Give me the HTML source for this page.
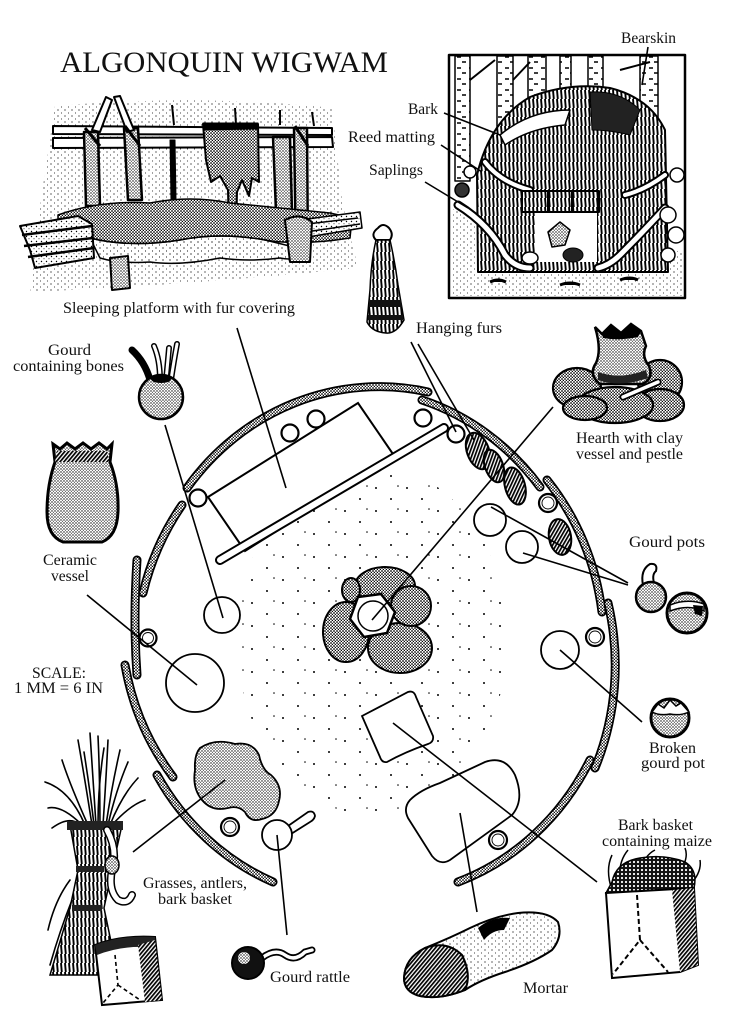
<!DOCTYPE html>
<html><head><meta charset="utf-8"><style>
html,body{margin:0;padding:0;background:#fff;}
svg{display:block;}
text{font-family:"Liberation Serif",serif;fill:#111;}
</style></head><body>
<svg width="733" height="1024" viewBox="0 0 733 1024" xmlns="http://www.w3.org/2000/svg">
<defs>
<pattern id="st" width="3" height="3" patternUnits="userSpaceOnUse"><rect width="3" height="3" fill="#fff"/><circle cx="1" cy="1" r="0.7" fill="#000"/><circle cx="2.4" cy="2.3" r="0.5" fill="#000"/></pattern>
<pattern id="wd" width="3" height="3" patternUnits="userSpaceOnUse"><rect width="3" height="3" fill="#fff"/><circle cx="1" cy="1" r="0.9" fill="#000"/><circle cx="2.4" cy="2.4" r="0.7" fill="#000"/></pattern>
<pattern id="lt" width="5" height="5" patternUnits="userSpaceOnUse"><rect width="5" height="5" fill="#fff"/><circle cx="1.5" cy="1.5" r="0.7" fill="#000"/><circle cx="4" cy="3.8" r="0.5" fill="#000"/></pattern>
<pattern id="vl" width="7" height="6" patternUnits="userSpaceOnUse"><circle cx="2" cy="2" r="0.6" fill="#000"/><circle cx="5.5" cy="5" r="0.5" fill="#000"/></pattern>
<pattern id="sp" width="31" height="23" patternUnits="userSpaceOnUse"><circle cx="4" cy="5" r="1" fill="#000"/><circle cx="19" cy="16" r="1" fill="#000"/><circle cx="26" cy="3" r="0.8" fill="#000"/></pattern>
<pattern id="ht" width="3" height="3" patternUnits="userSpaceOnUse" patternTransform="rotate(40)"><rect width="3" height="3" fill="#fff"/><rect width="1.7" height="3" fill="#000"/></pattern>
<pattern id="vh" width="4" height="9" patternUnits="userSpaceOnUse"><rect width="4" height="9" fill="#fff"/><path d="M1,0 L1.8,9" stroke="#000" stroke-width="1.9"/></pattern>
<pattern id="bk" width="12" height="11" patternUnits="userSpaceOnUse"><rect width="12" height="11" fill="#fff"/><path d="M1,2 h4 M6,7 h4" stroke="#000" stroke-width="1.6"/></pattern>
<pattern id="grid" width="4" height="4" patternUnits="userSpaceOnUse"><rect width="4" height="4" fill="#111"/><circle cx="2" cy="2" r="1.1" fill="#fff"/></pattern>
</defs>

<!-- Title -->
<text x="60" y="72" font-size="30" textLength="328" lengthAdjust="spacingAndGlyphs">ALGONQUIN WIGWAM</text>

<!-- ============ Sleeping platform illustration ============ -->
<g stroke="#000" stroke-linejoin="round">
<path d="M55,106 Q200,94 332,108 L342,200 L358,268 Q200,284 30,292 L38,220 Z" fill="url(#vl)" stroke="none"/>
<path d="M53,126 L332,128 L332,135 L53,134 Z" fill="#fff" stroke-width="2"/>
<path d="M53,138 L332,137 L333,147 L53,148 Z" fill="#fff" stroke-width="2"/>
<path d="M84,132 L98,132 L100,206 L86,206 Z" fill="url(#st)" stroke-width="2.5"/>
<path d="M124,128 L138,128 L142,200 L128,200 Z" fill="url(#st)" stroke-width="2.5"/>
<path d="M273,137 L290,137 L292,212 L276,212 Z" fill="url(#st)" stroke-width="2.5"/>
<path d="M294,128 L307,128 L308,260 L296,258 Z" fill="url(#st)" stroke-width="2.5"/>
<path d="M92,130 L106,97 L112,100 L100,132 Z" fill="#fff" stroke-width="2"/>
<path d="M114,97 L120,96 L134,130 L127,132 Z" fill="#fff" stroke-width="2"/>
<path d="M170,140 L175,140 L176,200 L171,200 Z" fill="#000" stroke-width="1"/>
<path d="M172,105 L174,125" stroke-width="2"/>
<path d="M235,108 L236,125 M280,110 L280,125 M312,112 L314,126" stroke-width="2"/>
<path d="M85,128 L100,146 M125,126 L140,146 M295,126 L308,146" stroke-width="3"/>
<path d="M203,124 L258,124 L259,182 L252,178 L249,196 L242,180 L237,192 L236,232 L229,234 L228,190 L220,176 L211,182 L206,160 Z" fill="url(#wd)" stroke-width="2"/>
<path d="M203,123 L258,123 L258,129 L203,130 Z" fill="#000"/>
<path d="M58,215 Q100,200 150,203 Q190,195 230,203 Q280,208 330,213 L352,218 L350,238 Q300,246 265,240 Q220,232 180,240 Q130,248 90,238 Q70,236 58,228 Z" fill="url(#wd)" stroke-width="1.5"/>
<path d="M90,238 Q130,248 180,240 Q220,232 265,240 Q290,246 305,250 Q300,262 280,258 Q250,262 220,258 Q180,266 150,262 Q120,264 100,258 Z" fill="url(#vl)" stroke-width="1.5"/>
<path d="M20,226 L78,216 L92,224 L94,258 L35,268 L30,250 Z" fill="url(#lt)" stroke-width="2"/>
<path d="M22,235 L92,226 M24,246 L93,238 M28,257 L94,248" stroke-width="2.5"/>
<path d="M110,258 L128,256 L130,288 L112,290 Z" fill="url(#st)" stroke-width="2"/>
<path d="M285,222 L360,212 L362,228 L290,240 Z" fill="url(#lt)" stroke-width="1.5"/>
<path d="M290,226 L358,218 M292,234 L360,224" stroke-width="1.5"/>
<path d="M285,220 Q300,212 312,222 L310,262 L290,262 Z" fill="url(#st)" stroke-width="2"/>
</g>

<!-- ============ Inset wigwam ============ -->
<g stroke="#000" stroke-linejoin="round">
<rect x="449" y="55" width="236" height="243" fill="#fff" stroke-width="2.5"/>
<path d="M451,208 Q490,225 523,260 L600,262 Q640,258 683,250 L683,296 L451,296 Z" fill="url(#vl)" stroke="none"/>
<rect x="455" y="56" width="15" height="125" fill="url(#bk)" stroke-width="1.5"/>
<rect x="497" y="56" width="16" height="90" fill="url(#bk)" stroke-width="1.5"/>
<rect x="528" y="56" width="18" height="45" fill="url(#bk)" stroke-width="1.5"/>
<rect x="560" y="56" width="11" height="35" fill="url(#bk)" stroke-width="1.5"/>
<rect x="588" y="56" width="15" height="40" fill="url(#bk)" stroke-width="1.5"/>
<rect x="640" y="56" width="18" height="130" fill="url(#bk)" stroke-width="1.5"/>
<path d="M470,80 L495,60 M513,80 L530,62 M620,70 L650,62" stroke-width="2"/>
<path d="M478,272 L477,175 Q490,120 530,97 Q570,82 610,88 Q650,98 665,130 L668,272 Z" fill="url(#vh)" stroke-width="2"/>
<path d="M590,92 Q620,90 640,110 L630,135 Q610,130 592,130 Z" fill="#222"/>
<path d="M500,135 Q530,110 570,110 L565,125 Q530,128 505,145 Z" fill="#fff" stroke-width="1.5"/>
<path d="M458,205 Q490,225 505,255 Q515,268 530,268" fill="none" stroke-width="9" stroke-linecap="round"/>
<path d="M458,205 Q490,225 505,255 Q515,268 530,268" fill="none" stroke="#fff" stroke-width="5" stroke-linecap="round"/>
<path d="M665,208 Q640,235 620,255 Q610,265 598,268" fill="none" stroke-width="9" stroke-linecap="round"/>
<path d="M665,208 Q640,235 620,255 Q610,265 598,268" fill="none" stroke="#fff" stroke-width="5" stroke-linecap="round"/>
<path d="M485,162 Q500,182 530,190" fill="none" stroke-width="8" stroke-linecap="round"/>
<path d="M485,162 Q500,182 530,190" fill="none" stroke="#fff" stroke-width="4" stroke-linecap="round"/>
<path d="M665,175 Q645,190 625,195" fill="none" stroke-width="8" stroke-linecap="round"/>
<path d="M665,175 Q645,190 625,195" fill="none" stroke="#fff" stroke-width="4" stroke-linecap="round"/>
<rect x="522" y="191" width="77" height="21" fill="url(#vh)" stroke-width="2"/>
<path d="M548,191 v21 M572,191 v21" stroke-width="2"/>
<path d="M535,213 L597,213 L597,262 L535,262 Z" fill="#fff" stroke="none"/>
<path d="M548,232 L560,222 L570,230 L565,245 L552,247 Z" fill="url(#st)" stroke-width="1.5"/>
<ellipse cx="573" cy="255" rx="10" ry="7" fill="#222"/>
<ellipse cx="530" cy="258" rx="8" ry="6" fill="#fff" stroke-width="1.5"/>
<path d="M490,282 q8,-4 16,0 M560,285 q10,-4 20,0 M620,280 q10,-4 18,0" stroke-width="3"/>
<circle cx="668" cy="215" r="8" fill="#fff" stroke-width="1.5"/>
<circle cx="676" cy="235" r="8" fill="#fff" stroke-width="1.5"/>
<circle cx="668" cy="255" r="7" fill="#fff" stroke-width="1.5"/>
<circle cx="677" cy="175" r="7" fill="#fff" stroke-width="1.5"/>
<circle cx="462" cy="190" r="7" fill="#333" stroke-width="1.5"/>
<circle cx="470" cy="172" r="6" fill="#fff" stroke-width="1.5"/>
</g>
<!-- inset labels & leaders -->
<text x="621" y="43" font-size="16" textLength="55" lengthAdjust="spacingAndGlyphs">Bearskin</text>
<text x="408" y="114" font-size="16" textLength="30" lengthAdjust="spacingAndGlyphs">Bark</text>
<text x="348" y="142" font-size="16" textLength="87" lengthAdjust="spacingAndGlyphs">Reed matting</text>
<text x="369" y="175" font-size="16" textLength="54" lengthAdjust="spacingAndGlyphs">Saplings</text>
<g stroke="#000" stroke-width="1.6">
<line x1="648" y1="47" x2="642" y2="85"/>
<line x1="444" y1="113" x2="500" y2="135"/>
<line x1="441" y1="145" x2="482" y2="172"/>
<line x1="425" y1="182" x2="468" y2="208"/>
</g>

<text x="63" y="313" font-size="16" textLength="232" lengthAdjust="spacingAndGlyphs">Sleeping platform with fur covering</text>

<!-- Hanging fur -->
<g stroke="#000">
<path d="M376,240 Q370,234 378,228 Q383,222 389,228 Q394,234 390,240 Z" fill="#fff" stroke-width="2"/>
<path d="M376,240 L390,240 Q395,262 398,285 L404,320 Q396,334 386,333 Q372,332 367,322 L370,290 Q371,262 376,240 Z" fill="url(#vh)" stroke-width="1.5"/>
<path d="M369,300 L401,300 L402,307 L369,307 Z M368,315 L403,315 L403,320 L368,320 Z" fill="#111" stroke="none"/>
</g>
<text x="416" y="333" font-size="16" textLength="86" lengthAdjust="spacingAndGlyphs">Hanging furs</text>

<!-- Gourd containing bones -->
<text x="48" y="355" font-size="16" textLength="43" lengthAdjust="spacingAndGlyphs">Gourd</text>
<text x="13" y="371" font-size="16" textLength="111" lengthAdjust="spacingAndGlyphs">containing bones</text>
<g stroke="#000" fill="none" stroke-linecap="round">
<path d="M150,380 Q145,362 132,350" stroke-width="7"/>
<path d="M160,380 Q160,360 154,346" stroke-width="6"/>
<path d="M160,380 Q160,360 154,346" stroke="#fff" stroke-width="3"/>
<path d="M166,380 Q168,360 169,348" stroke-width="6"/>
<path d="M166,380 Q168,360 169,348" stroke="#fff" stroke-width="3"/>
<path d="M171,380 Q174,360 177,344" stroke-width="6"/>
<path d="M171,380 Q174,360 177,344" stroke="#fff" stroke-width="3"/>
</g>
<circle cx="161" cy="397" r="22" fill="url(#st)" stroke="#000" stroke-width="2.5"/>
<ellipse cx="161" cy="379" rx="10" ry="4" fill="#000"/>

<!-- Ceramic vessel -->
<path d="M53,444 L60,449 L67,443 L75,449 L83,443 L91,449 L99,443 L107,449 L112,444 L110,462 Q119,485 118,512 Q117,536 102,542 L63,542 Q47,536 47,512 Q47,485 55,462 Z" fill="url(#st)" stroke="#000" stroke-width="3"/>
<path d="M57,451 L107,451 L109,462 L55,462 Z" fill="url(#ht)"/>
<text x="43" y="565" font-size="16" textLength="54" lengthAdjust="spacingAndGlyphs">Ceramic</text>
<text x="51" y="581" font-size="16" textLength="38" lengthAdjust="spacingAndGlyphs">vessel</text>

<!-- Hearth illustration -->
<g stroke="#000" stroke-width="2.2" fill="url(#wd)">
<ellipse cx="577" cy="388" rx="24" ry="20"/>
<ellipse cx="660" cy="382" rx="22" ry="22"/>
<ellipse cx="660" cy="405" rx="24" ry="16"/>
<ellipse cx="615" cy="405" rx="38" ry="18"/>
<ellipse cx="585" cy="408" rx="22" ry="12"/>
</g>
<path d="M595,327 L602,334 L611,325 L621,333 L631,324 L641,331 L646,346 Q641,356 649,366 Q654,379 642,384 L600,384 Q588,375 596,363 Q602,350 595,327 Z" fill="url(#st)" stroke="#000" stroke-width="2.5"/>
<path d="M602,334 L611,325 L621,333 L631,324 L641,331 L638,337 Q620,341 603,338 Z" fill="#000"/>
<path d="M598,372 Q620,380 646,370 L648,378 Q620,388 598,380 Z" fill="#222"/>
<path d="M623,397 L658,382" stroke="#000" stroke-width="7" stroke-linecap="round"/>
<path d="M623,397 L658,382" stroke="#fff" stroke-width="3.5" stroke-linecap="round"/>
<text x="576" y="443" font-size="16" textLength="107" lengthAdjust="spacingAndGlyphs">Hearth with clay</text>
<text x="576" y="459" font-size="16" textLength="107" lengthAdjust="spacingAndGlyphs">vessel and pestle</text>

<!-- Gourd pots illustration -->
<text x="629" y="547" font-size="16" textLength="76" lengthAdjust="spacingAndGlyphs">Gourd pots</text>
<path d="M643,585 Q640,570 650,564 Q658,563 656,571 Q651,575 655,586" fill="#fff" stroke="#000" stroke-width="2"/>
<circle cx="651" cy="597" r="15" fill="url(#st)" stroke="#000" stroke-width="2.5"/>
<circle cx="687" cy="613" r="20" fill="url(#st)" stroke="#000" stroke-width="3"/>
<path d="M670,605 Q687,598 704,604 L704,611 Q688,604 670,611 Z" fill="#fff" stroke="#000" stroke-width="1.5"/>
<path d="M693,605 L703,606 L702,616 L695,614 Z" fill="#000"/>

<!-- Broken gourd pot -->
<circle cx="670" cy="718" r="19" fill="url(#st)" stroke="#000" stroke-width="3"/>
<path d="M652,712 L658,704 L664,708 L670,700 L676,706 L681,703 L689,712 Q680,716 670,714 Q660,716 652,712 Z" fill="#fff" stroke="#000" stroke-width="1.5"/>
<text x="649" y="753" font-size="16" textLength="47" lengthAdjust="spacingAndGlyphs">Broken</text>
<text x="641" y="768" font-size="16" textLength="64" lengthAdjust="spacingAndGlyphs">gourd pot</text>

<!-- Bark basket containing maize -->
<text x="618" y="830" font-size="16" textLength="75" lengthAdjust="spacingAndGlyphs">Bark basket</text>
<text x="602" y="846" font-size="16" textLength="110" lengthAdjust="spacingAndGlyphs">containing maize</text>
<g stroke="#000" fill="none" stroke-width="1.5">
<path d="M612,890 Q605,870 612,855 M620,880 Q618,862 628,850 M675,878 Q690,860 685,848 M690,885 Q702,872 700,860 M640,870 Q645,855 655,850"/>
</g>
<path d="M612,882 Q616,862 640,858 Q665,854 685,862 Q698,870 694,888 L606,893 Z" fill="url(#grid)" stroke="#000" stroke-width="1.5"/>
<path d="M606,893 L694,888 L698,965 L680,972 L612,978 Z" fill="#fff" stroke="#000" stroke-width="2"/>
<path d="M672,890 L694,888 L698,965 L680,972 Z" fill="url(#ht)"/>
<path d="M637,895 L640,940 L613,974 M640,940 L668,972" stroke="#000" stroke-width="2" stroke-dasharray="5,3" fill="none"/>

<!-- Mortar -->
<path d="M404,978 Q405,958 425,948 Q450,938 470,928 Q495,916 518,913 Q547,910 558,922 Q563,937 552,950 Q535,962 505,972 Q480,980 465,990 Q440,1000 420,996 Q404,992 404,978 Z" fill="url(#vl)" stroke="#000" stroke-width="2"/>
<path d="M404,978 Q405,958 425,948 Q447,940 462,955 Q472,975 465,990 Q440,1000 420,996 Q404,992 404,978 Z" fill="url(#ht)" stroke="#000" stroke-width="2"/>
<path d="M478,928 Q492,916 510,918 L504,930 Q492,930 484,940 Z" fill="#000"/>
<text x="523" y="993" font-size="16" textLength="45" lengthAdjust="spacingAndGlyphs">Mortar</text>

<!-- Grasses, antlers, bark basket -->
<g stroke="#000" fill="none" stroke-width="1.6" stroke-linecap="round">
<path d="M85,825 Q70,790 45,782"/><path d="M88,825 Q70,785 62,760"/><path d="M92,825 Q85,780 78,740"/>
<path d="M96,825 Q93,780 90,733"/><path d="M100,825 Q100,780 98,736"/><path d="M103,825 Q106,780 108,740"/>
<path d="M106,825 Q112,785 120,750"/><path d="M110,825 Q122,795 138,778"/><path d="M112,825 Q130,805 145,800"/>
<path d="M82,825 Q62,805 48,808"/><path d="M80,825 Q70,815 52,828"/><path d="M94,825 Q90,790 84,752"/>
<path d="M98,825 Q98,785 104,748"/><path d="M108,825 Q116,790 128,762"/>
<path d="M70,880 Q55,900 48,930 M72,900 Q60,930 50,965"/>
</g>
<path d="M70,825 L122,825 L112,870 L104,908 L118,975 L50,975 L70,908 L78,870 Z" fill="url(#vh)" stroke="#000" stroke-width="1.5"/>
<path d="M67,821 L123,821 L123,830 L67,830 Z M76,866 L104,866 L104,872 L76,872 Z M72,905 L102,905 L102,911 L72,911 Z" fill="#222"/>
<path d="M107,830 Q118,850 112,870 Q108,890 118,900 Q128,905 132,895" fill="none" stroke="#000" stroke-width="8" stroke-linecap="round"/>
<path d="M107,830 Q118,850 112,870 Q108,890 118,900 Q128,905 132,895" fill="none" stroke="#fff" stroke-width="5" stroke-linecap="round"/>
<ellipse cx="112" cy="865" rx="7" ry="9" fill="url(#st)" stroke="#000" stroke-width="1.5"/>
<path d="M95,945 Q120,935 155,937 L162,1000 L102,1005 Z" fill="#fff" stroke="#000" stroke-width="2"/>
<path d="M95,945 Q120,935 155,937 L156,948 Q125,944 97,955 Z" fill="#222"/>
<path d="M138,945 L155,940 L162,1000 L145,1002 Z" fill="url(#ht)"/>
<path d="M115,955 L118,985 L103,1003 M118,985 L140,1000" stroke="#000" stroke-width="1.6" stroke-dasharray="4,3" fill="none"/>
<text x="143" y="888" font-size="16" textLength="104" lengthAdjust="spacingAndGlyphs">Grasses, antlers,</text>
<text x="158" y="904" font-size="16" textLength="74" lengthAdjust="spacingAndGlyphs">bark basket</text>

<!-- Gourd rattle -->
<path d="M262,958 Q275,948 285,955 Q295,962 305,952 L312,950" stroke="#000" stroke-width="7" fill="none" stroke-linecap="round"/>
<path d="M262,958 Q275,948 285,955 Q295,962 305,952 L312,950" stroke="#fff" stroke-width="3.5" fill="none" stroke-linecap="round"/>
<circle cx="248" cy="963" r="16" fill="#111" stroke="#000" stroke-width="2"/>
<circle cx="244" cy="958" r="6" fill="url(#st)"/>
<text x="270" y="982" font-size="16" textLength="80" lengthAdjust="spacingAndGlyphs">Gourd rattle</text>

<!-- Scale -->
<text x="32" y="678" font-size="16" textLength="54" lengthAdjust="spacingAndGlyphs">SCALE:</text>
<text x="14" y="693" font-size="16" textLength="89" lengthAdjust="spacingAndGlyphs">1 MM = 6 IN</text>

<!-- ============ Floor plan ============ -->
<ellipse cx="372" cy="640" rx="135" ry="175" fill="url(#sp)"/>

<!-- walls -->
<g fill="none" stroke-linecap="round">
<g stroke="#000" stroke-width="9">
<path d="M187,488 A241,256 0 0,1 428,392"/>
<path d="M143,593 A241,256 0 0,1 182,505"/>
<path d="M137,675 Q133,620 137,560"/>
<path d="M173,777 A241,256 0 0,1 125,665"/>
<path d="M273,882 A241,256 0 0,1 157,775"/>
<path d="M590,760 A241,256 0 0,1 458,882"/>
<path d="M608,603 A241,256 0 0,1 595,768"/>
<path d="M547,480 A241,256 0 0,1 602,612"/>
<path d="M422,400 A241,256 0 0,1 540,487"/>
</g>
<g stroke="url(#wd)" stroke-width="5.5">
<path d="M187,488 A241,256 0 0,1 428,392"/>
<path d="M143,593 A241,256 0 0,1 182,505"/>
<path d="M137,675 Q133,620 137,560"/>
<path d="M173,777 A241,256 0 0,1 125,665"/>
<path d="M273,882 A241,256 0 0,1 157,775"/>
<path d="M590,760 A241,256 0 0,1 458,882"/>
<path d="M608,603 A241,256 0 0,1 595,768"/>
<path d="M547,480 A241,256 0 0,1 602,612"/>
<path d="M422,400 A241,256 0 0,1 540,487"/>
</g>
</g>

<!-- platform rect and rod -->
<polygon points="208,497 358,403 395,457 245,551" fill="#fff" stroke="#000" stroke-width="2"/>
<line x1="220" y1="560" x2="444" y2="428" stroke="#000" stroke-width="10" stroke-linecap="round"/>
<line x1="220" y1="560" x2="444" y2="428" stroke="#fff" stroke-width="6" stroke-linecap="round"/>

<!-- dark hatched ovals (furs) -->
<g fill="url(#ht)" stroke="#000" stroke-width="2">
<ellipse cx="478" cy="451" rx="11" ry="19" transform="rotate(-20 478 451)"/>
<ellipse cx="494" cy="466" rx="9" ry="17" transform="rotate(-20 494 466)"/>
<ellipse cx="515" cy="486" rx="10" ry="19" transform="rotate(-15 515 486)"/>
<ellipse cx="560" cy="537" rx="11" ry="18" transform="rotate(-10 560 537)"/>
</g>

<!-- hearth plan -->
<g fill="url(#wd)" stroke="#000" stroke-width="2">
<ellipse cx="385" cy="586" rx="30" ry="19"/>
<ellipse cx="351" cy="590" rx="9" ry="12"/>
<ellipse cx="346" cy="632" rx="23" ry="30"/>
<ellipse cx="400" cy="648" rx="32" ry="25"/>
<ellipse cx="411" cy="606" rx="20" ry="20"/>
</g>
<polygon points="395,612 387,633 364,637 350,619 358,597 381,594" fill="#fff" stroke="#000" stroke-width="2.5"/>
<circle cx="373" cy="616" r="15" fill="#fff" stroke="#000" stroke-width="1.5"/>

<!-- circles -->
<g fill="#fff" stroke="#000" stroke-width="1.8">
<circle cx="222" cy="615" r="18"/>
<circle cx="195" cy="683" r="29"/>
<circle cx="490" cy="520" r="16"/>
<circle cx="522" cy="547" r="16"/>
<circle cx="560" cy="650" r="19"/>
<path d="M288,826 L308,812 Q314,810 315,816 Q314,820 310,822 L291,834"/>
<circle cx="277" cy="835" r="15"/>
<path d="M362,716 L408,692 Q414,690 416,697 L433,736 Q434,742 428,744 Q405,752 387,762 Q382,763 380,757 Z"/>
<path d="M410,800 Q420,790 440,783 L485,762 Q505,755 515,775 Q525,800 512,815 L450,860 Q440,866 432,856 L408,818 Q403,808 410,800 Z"/>
</g>
<!-- grasses blob -->
<path d="M200,748 Q215,738 235,744 Q252,741 259,755 Q262,770 271,775 Q283,786 279,801 Q276,816 262,819 Q250,823 245,812 Q238,805 228,808 Q212,812 202,800 Q192,788 195,770 Q194,755 200,748 Z" fill="url(#st)" stroke="#000" stroke-width="1.8"/>

<!-- small rings -->
<g fill="#fff" stroke="#000">
<g stroke-width="2.2">
<circle cx="290" cy="433" r="8.5"/><circle cx="316" cy="419" r="8.5"/><circle cx="198" cy="498" r="8.5"/>
<circle cx="423" cy="418" r="8.5"/><circle cx="456" cy="434" r="8.5"/><circle cx="548" cy="503" r="9"/>
<circle cx="595" cy="637" r="9"/><circle cx="148" cy="638" r="8.5"/><circle cx="230" cy="827" r="9"/>
<circle cx="498" cy="840" r="9"/>
</g>
<g stroke-width="0.9" fill="none">
<circle cx="548" cy="503" r="6"/><circle cx="595" cy="637" r="6"/><circle cx="148" cy="638" r="5.5"/>
<circle cx="230" cy="827" r="6"/><circle cx="498" cy="840" r="6"/>
</g>
</g>

<!-- leader lines -->
<g stroke="#000" stroke-width="1.6" fill="none">
<line x1="237" y1="328" x2="286" y2="488"/>
<line x1="165" y1="425" x2="223" y2="618"/>
<line x1="87" y1="595" x2="197" y2="685"/>
<line x1="411" y1="342" x2="456" y2="432"/>
<line x1="418" y1="344" x2="474" y2="440"/>
<line x1="553" y1="407" x2="372" y2="620"/>
<line x1="491" y1="507" x2="628" y2="583"/>
<line x1="523" y1="553" x2="628" y2="585"/>
<line x1="560" y1="650" x2="642" y2="722"/>
<line x1="393" y1="723" x2="597" y2="882"/>
<line x1="460" y1="813" x2="477" y2="912"/>
<line x1="225" y1="780" x2="133" y2="852"/>
<line x1="277" y1="835" x2="287" y2="935"/>
</g>
</svg>
</body></html>
